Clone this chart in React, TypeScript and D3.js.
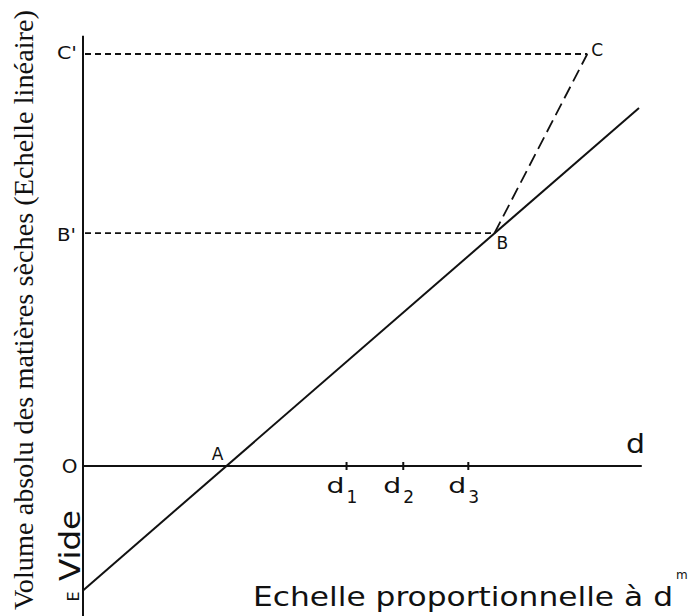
import React from "react";
import * as d3 from "d3";

// diagram coordinates (arbitrary units, origin O)
const lineStart = { x: 0, y: -30.2 };   // E
const lineEnd = { x: 100, y: 86.9 };
const pointA = { x: 26.2, y: 0 };
const pointB = { x: 74, y: 56.5 };
const pointC = { x: 90.7, y: 100 };
const dTicks = [47.4, 57.6, 69.3];
const dTickLabels = ["1", "2", "3"];
const xAxisEnd = 100.5;
const yAxisTop = 104.4;
const yAxisBottom = -37;

const W = 692;
const H = 616;

const x = d3.scaleLinear().domain([0, 100]).range([83, 639]);
const y = d3.scaleLinear().domain([0, 100]).range([466, 54]);

const ink = "#111";
const sans = "'DejaVu Sans', 'Liberation Sans', sans-serif";
const serif = "'Liberation Serif', 'DejaVu Serif', serif";

export default function App() {
  const line = d3.line<{ x: number; y: number }>().x(d => x(d.x)).y(d => y(d.y));
  const x0 = x(0);
  const y0 = y(0);
  return (
    <svg width={W} height={H} style={{ position: "absolute", left: 0, top: 0, background: "#fff" }}>
      <rect width={W} height={H} fill="#fff" />
      {/* axes */}
      <line x1={x0} x2={x0} y1={y(yAxisTop)} y2={y(yAxisBottom)} stroke={ink} strokeWidth={2} />
      <line x1={x0} x2={x(xAxisEnd)} y1={y0} y2={y0} stroke={ink} strokeWidth={2} />
      {dTicks.map(t => (
        <line key={t} x1={x(t)} x2={x(t)} y1={y0 - 4} y2={y0 + 4} stroke={ink} strokeWidth={2} />
      ))}
      {/* dashed guides */}
      <line x1={x0 + 2} x2={x(pointC.x)} y1={y(pointC.y)} y2={y(pointC.y)} stroke={ink} strokeWidth={1.8} strokeDasharray="6 4" />
      <line x1={x0 + 2} x2={x(pointB.x)} y1={y(pointB.y)} y2={y(pointB.y)} stroke={ink} strokeWidth={1.8} strokeDasharray="6 4" />
      <path d={line([pointB, pointC]) || ""} fill="none" stroke={ink} strokeWidth={1.8} strokeDasharray="13 6" />
      {/* main line */}
      <path d={line([lineStart, lineEnd]) || ""} fill="none" stroke={ink} strokeWidth={2} />

      {/* point labels */}
      <g fontFamily={sans} fill={ink} fontSize={17}>
        <text x={57} y={y(pointC.y) + 5} textLength={20} lengthAdjust="spacingAndGlyphs">C'</text>
        <text x={57} y={y(pointB.y) + 8} textLength={19} lengthAdjust="spacingAndGlyphs">B'</text>
        <text x={x(pointC.x) + 4} y={y(pointC.y) + 2}>C</text>
        <text x={x(pointB.x) + 2} y={y(pointB.y) + 16}>B</text>
        <text x={x(pointA.x) - 17} y={y0 - 6}>A</text>
        <text x={69.5} y={y0 + 7} fontSize={20} textAnchor="middle">O</text>
        <text transform={`translate(79,${y(lineStart.y) + 11}) rotate(-90)`} fontSize={16}>E</text>
      </g>
      <text x={626} y={453} fontFamily={sans} fontSize={27} fill={ink} textLength={19} lengthAdjust="spacingAndGlyphs">d</text>
      {dTicks.map((t, i) => (
        <g key={t} fontFamily={sans} fill={ink}>
          <text x={x(t) - 20} y={y0 + 27} fontSize={21} textLength={18} lengthAdjust="spacingAndGlyphs">d</text>
          <text x={x(t) + 0} y={y0 + 37} fontSize={17}>{dTickLabels[i]}</text>
        </g>
      ))}
      <text
        transform="translate(80,581) rotate(-90)"
        fontFamily={sans}
        fontSize={28}
        fill={ink}
        textLength={71}
        lengthAdjust="spacingAndGlyphs"
      >
        Vide
      </text>
      <text x={253} y={606} fontFamily={sans} fontSize={27} fill={ink} textLength={420} lengthAdjust="spacingAndGlyphs">
        Echelle proportionnelle à d
      </text>
      <text x={676} y={579} fontFamily={sans} fontSize={12} fill={ink}>m</text>
      <text
        transform="translate(33,610) rotate(-90)"
        fontFamily={serif}
        fontSize={28}
        fill={ink}
        textLength={600}
        lengthAdjust="spacingAndGlyphs"
      >
        Volume absolu des matières sèches (Echelle linéaire)
      </text>
    </svg>
  );
}
